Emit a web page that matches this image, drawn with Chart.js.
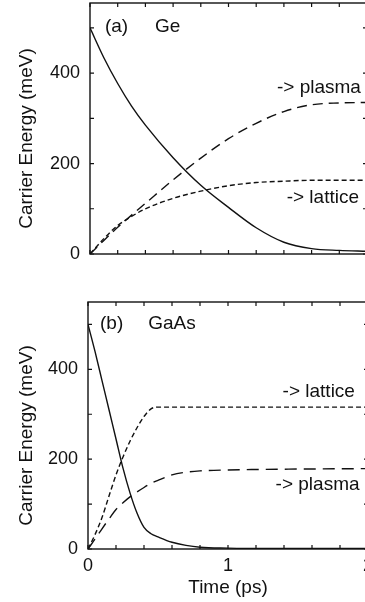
<!DOCTYPE html>
<html>
<head>
<meta charset="utf-8">
<script src="https://cdn.jsdelivr.net/npm/chart.js@4.4.1/dist/chart.umd.min.js"></script>
<style>
  html, body { margin: 0; padding: 0; background: #fff; overflow: hidden; width: 365px; height: 602px; }
  canvas { position: absolute; left: 0; }
  #geChart { top: -20px; }
  #gaasChart { top: 280px; }
</style>
</head>
<body>
<canvas id="geChart" width="380" height="300"></canvas>
<canvas id="gaasChart" width="380" height="340"></canvas>
<script>
// (a) Ge
const geTime = [0, 0.1, 0.2, 0.3, 0.4, 0.6, 0.8, 1.0, 1.2, 1.4, 1.6, 1.8, 2.0];
const geCarrier = [500, 434, 377, 327, 285, 213, 152, 103, 58, 26, 12, 8, 6];
const gePlasma = [0, 30, 59, 86, 112, 164, 212, 255, 289, 315, 330, 334, 335];
const geLattice = [0, 34, 63, 83, 100, 123, 139, 151, 158, 161, 163, 163, 163];

// (b) GaAs
const gaasTime = [0, 0.05, 0.1, 0.15, 0.2, 0.25, 0.3, 0.35, 0.4, 0.45, 0.5, 0.6, 0.7, 0.8, 1.0, 1.2, 1.5, 2.0];
const gaasCarrier = [500, 440, 375, 310, 245, 180, 125, 80, 48, 34, 27, 15, 8, 4, 2, 1, 1, 1];
const gaasLattice = [0, 32, 70, 118, 165, 205, 240, 270, 295, 312, 316, 316, 316, 316, 316, 316, 316, 316];
const gaasPlasma = [0, 22, 45, 67, 88, 103, 116, 127, 137, 146, 153, 165, 171, 174, 176, 177, 178, 179];

const yTitle = 'Carrier Energy (meV)';
const xTitle = 'Time (ps)';

const geNotes = [
  { text: '(a)', x: 0.108, y: 502 },
  { text: 'Ge', x: 0.47, y: 502 },
  { text: '-> plasma', x: 1.35, y: 367 },
  { text: '-> lattice', x: 1.42, y: 124 }
];
const gaasNotes = [
  { text: '(b)', x: 0.086, y: 502 },
  { text: 'GaAs', x: 0.43, y: 502 },
  { text: '-> lattice', x: 1.39, y: 351 },
  { text: '-> plasma', x: 1.34, y: 142 }
];

Chart.defaults.font.family = '"Liberation Sans", Arial, Helvetica, sans-serif';
Chart.defaults.font.size = 18;
Chart.defaults.color = '#111';

const ink = '#111';
const textFont = '19px "Liberation Sans", Arial, sans-serif';

const toPoints = (xs, ys) => xs.map((t, i) => ({ x: t, y: ys[i] }));

const line = (label, xs, ys, dash) => ({
  label: label,
  data: toPoints(xs, ys),
  borderColor: ink,
  borderWidth: 1.4,
  borderDash: dash,
  pointRadius: 0,
  fill: false,
  cubicInterpolationMode: 'monotone'
});

// box round the plot, inward ticks on all four sides, y title and the text notes
const frameTicks = {
  id: 'frameTicks',
  afterDatasetsDraw(chart, args, opts) {
    const { ctx, chartArea: a, scales: { x, y } } = chart;
    ctx.save();
    ctx.strokeStyle = ink;
    ctx.lineWidth = 1.4;
    ctx.setLineDash([]);
    ctx.strokeRect(a.left, a.top, a.right - a.left, a.bottom - a.top);
    ctx.lineWidth = 1.2;
    ctx.beginPath();
    x.ticks.forEach(t => {
      const px = x.getPixelForValue(t.value);
      ctx.moveTo(px, a.bottom); ctx.lineTo(px, a.bottom - 4);
      ctx.moveTo(px, a.top); ctx.lineTo(px, a.top + 4);
    });
    y.ticks.forEach(t => {
      if (t.value % 100 !== 0) return;
      const py = y.getPixelForValue(t.value);
      ctx.moveTo(a.left, py); ctx.lineTo(a.left + 4, py);
      ctx.moveTo(a.right, py); ctx.lineTo(a.right - 4, py);
    });
    ctx.stroke();

    ctx.fillStyle = ink;
    ctx.font = textFont;
    ctx.textAlign = 'left';
    ctx.textBaseline = 'middle';
    (opts.notes || []).forEach(n => {
      ctx.fillText(n.text, x.getPixelForValue(n.x), y.getPixelForValue(n.y));
    });

    // y title, sitting a little below the middle as in the print
    ctx.translate(y.left + 27, (a.top + a.bottom) / 2 + 10);
    ctx.rotate(-Math.PI / 2);
    ctx.textAlign = 'center';
    ctx.fillText(yTitle, 0, 0);
    ctx.restore();
  }
};

const makeOptions = (cfg) => ({
  responsive: false,
  animation: false,
  layout: { padding: cfg.padding },
  plugins: {
    legend: { display: false },
    tooltip: { enabled: false },
    frameTicks: { notes: cfg.notes }
  },
  scales: {
    x: {
      type: 'linear',
      min: 0,
      max: 2,
      grid: { display: false, drawTicks: false },
      border: { display: false },
      ticks: {
        display: cfg.xLabels,
        stepSize: 0.2,
        autoSkip: false,
        maxRotation: 0,
        padding: 6,
        callback: v => (Math.abs(v - Math.round(v)) < 1e-6 ? Math.round(v) : '')
      },
      title: {
        display: cfg.xLabels,
        text: xTitle,
        font: { size: 19 },
        padding: { top: 0, bottom: 3 }
      },
      afterFit: s => { s.height = cfg.xHeight; }
    },
    y: {
      min: 0,
      max: cfg.yMax,
      grid: { display: false, drawTicks: false },
      border: { display: false },
      ticks: {
        stepSize: 100,
        padding: 10,
        callback: v => (v % 200 === 0 ? v : '')
      },
      title: { display: false },
      afterFit: s => { s.width = cfg.yWidth; }
    }
  }
});

new Chart(document.getElementById('geChart'), {
  type: 'line',
  data: {
    datasets: [
      line('carrier', geTime, geCarrier, []),
      line('plasma', geTime, gePlasma, [10, 6]),
      line('lattice', geTime, geLattice, [5, 3])
    ]
  },
  options: makeOptions({
    padding: { top: 23, bottom: 26, left: 0, right: 13 },
    notes: geNotes,
    xLabels: false,
    xHeight: 0,
    yWidth: 90,
    yMax: 555
  }),
  plugins: [frameTicks]
});

new Chart(document.getElementById('gaasChart'), {
  type: 'line',
  data: {
    datasets: [
      line('carrier', gaasTime, gaasCarrier, []),
      line('lattice', gaasTime, gaasLattice, [5, 3]),
      line('plasma', gaasTime, gaasPlasma, [12, 7])
    ]
  },
  options: makeOptions({
    padding: { top: 22, bottom: 18, left: 0, right: 12 },
    notes: gaasNotes,
    xLabels: true,
    xHeight: 53,
    yWidth: 88,
    yMax: 550
  }),
  plugins: [frameTicks]
});
</script>
</body>
</html>
